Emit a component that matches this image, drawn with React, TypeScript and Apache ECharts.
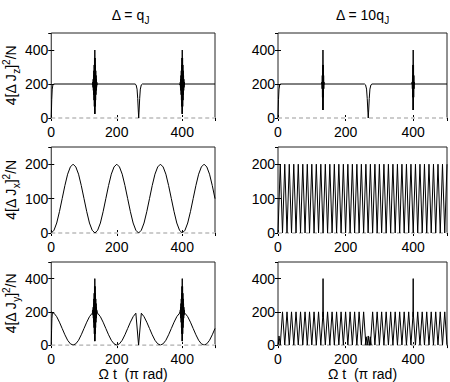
import React, { useEffect, useRef } from "react";
import * as echarts from "echarts";

// ---------- texts ----------
const titles = ["{n|Δ = q}{s|J}", "{n|Δ = 10q}{s|J}"];
const yNames = [
  "{n|4[Δ J}{s|z}{n|]}{p|2}{n|/N}",
  "{n|4[Δ J}{s|x}{n|]}{p|2}{n|/N}",
  "{n|4[Δ J}{s|y}{n|]}{p|2}{n|/N}",
];
const xName = "Ω t  (π rad)";
const xMax = 500;
const xStep = 200;
const yMax = [500, 250, 500];
const yStep = [200, 100, 200];

// ---------- row 1: Jz ----------
const jzSlowBase = [
  [0, 0], [1.5, 110], [3, 170], [5, 195], [8, 200], [256, 200], [259, 195], [262, 170],
  [264, 115], [266, 35], [267, 0], [268, 35], [270, 115], [272, 170], [275, 195], [278, 200], [500, 200],
];
const slowSpindleA = [
  [125, 200], [125.5, 199], [126, 203], [126.5, 193], [127, 212], [127.5, 180], [128, 228], [128.5, 162],
  [129, 250], [129.5, 137], [130, 278], [130.5, 105], [131, 312], [131.5, 68], [132, 353], [132.5, 24],
  [133, 400], [133.5, 24], [134, 353], [134.5, 68], [135, 312], [135.5, 105], [136, 278], [136.5, 137],
  [137, 250], [137.5, 162], [138, 228], [138.5, 180], [139, 212], [139.5, 193], [140, 203], [140.5, 199], [141, 200],
];
const slowSpindleB = [
  [392, 200], [392.5, 199], [393, 203], [393.5, 193], [394, 212], [394.5, 180], [395, 228], [395.5, 162],
  [396, 250], [396.5, 137], [397, 278], [397.5, 105], [398, 312], [398.5, 68], [399, 353], [399.5, 24],
  [400, 400], [400.5, 24], [401, 353], [401.5, 68], [402, 312], [402.5, 105], [403, 278], [403.5, 137],
  [404, 250], [404.5, 162], [405, 228], [405.5, 180], [406, 212], [406.5, 193], [407, 203], [407.5, 199], [408, 200],
];
const jzFastBase = [
  [0, 0], [1.5, 110], [3, 170], [5, 195], [8, 200], [256, 200], [259, 195], [262, 170],
  [264, 115], [266, 35], [267, 0], [268, 35], [270, 115], [272, 170], [275, 195], [278, 200], [500, 200],
];
const fastSpindleA = [
  [129, 200], [129.5, 197], [130, 212], [130.5, 172], [131, 250], [131.5, 122], [132, 312], [132.5, 47],
  [133, 400], [133.5, 47], [134, 312], [134.5, 122], [135, 250], [135.5, 172], [136, 212], [136.5, 197], [137, 200],
];
const fastSpindleB = [
  [396, 200], [396.5, 197], [397, 212], [397.5, 172], [398, 250], [398.5, 122], [399, 312], [399.5, 47],
  [400, 400], [400.5, 47], [401, 312], [401.5, 122], [402, 250], [402.5, 172], [403, 212], [403.5, 197], [404, 200],
];

// ---------- row 2: Jx ----------
const jxSlowStep = 500 / 60;
const jxSlowY = [
  0, 8, 29, 62, 100, 138, 171, 192, 200, 192, 171, 138, 100, 62, 29, 8,
  0, 8, 29, 62, 100, 138, 171, 192, 200, 192, 171, 138, 100, 62, 29, 8,
  0, 8, 29, 62, 100, 138, 171, 192, 200, 192, 171, 138, 100, 62, 29, 8,
  0, 8, 29, 62, 100, 138, 171, 192, 200, 192, 171, 138, 100,
];
const jxFastStep = 500 / 75;
const jxFastY = [
  0, 200, 0, 200, 0, 200, 0, 200, 0, 200,
  0, 200, 0, 200, 0, 200, 0, 200, 0, 200,
  0, 200, 0, 200, 0, 200, 0, 200, 0, 200,
  0, 200, 0, 200, 0, 200, 0, 200, 0, 200,
  0, 200, 0, 200, 0, 200, 0, 200, 0, 200,
  0, 200, 0, 200, 0, 200, 0, 200, 0, 200,
  0, 200, 0, 200, 0, 200, 0, 200, 0, 200,
  0, 200, 0, 200, 0, 200,
];

// ---------- row 3: Jy ----------
const jySlowStep = 500 / 60;
const jySlowY = [
  200, 192, 171, 138, 100, 62, 29, 8, 0, 8, 29, 62, 100, 138, 171, 192,
  200, 192, 171, 138, 100, 62, 29, 8, 0, 8, 29, 62, 100, 138, 171, 192,
  0, 192, 171, 138, 100, 62, 29, 8, 0, 8, 29, 62, 100, 138, 171, 192,
  200, 192, 171, 138, 100, 62, 29, 8, 0, 8, 29, 62, 100,
];
const jySlowStart = [[0, 0], [1, 90], [2, 160], [3.5, 195], [5, 199]];
const jyFastStep = 500 / 75;
const jyFastY = [
  0, 0, 200, 0, 200, 0, 200, 0, 200, 0,
  200, 0, 200, 0, 200, 0, 200, 0, 200, 0,
  200, 0, 200, 0, 200, 0, 200, 0, 200, 0,
  200, 0, 200, 0, 200, 0, 200, 0, 200, 0,
  0, 0, 200, 0, 200, 0, 200, 0, 200, 0,
  200, 0, 200, 0, 200, 0, 200, 0, 200, 0,
  200, 0, 200, 0, 200, 0, 200, 0, 200, 0,
  200, 0, 200, 0, 200, 0,
];
const jyFastStart = [[0, 0], [3, 55], [6.67, 0]];
const jyFastNotch = [[258, 0], [261, 50], [264, 0], [267, 55], [270, 0], [273, 50], [276, 0]];
const jyFastSpikeA = [[132.6, 170], [133.3, 400], [134, 170]];
const jyFastSpikeB = [[399.3, 170], [400, 400], [400.7, 170]];

const zeroLine = [[0, 0], [500, 0]];

// ---------- layout ----------
const colLeft = [46, 278];
const plotW = 169;
const rowTop = [33, 147, 262];
const rowH = [85, 86, 85];

const FONT = "Liberation Sans, Arial, Helvetica, sans-serif";

const richStyles = {
  n: { fontSize: 14, fontFamily: FONT, color: "#000", lineHeight: 20, verticalAlign: "middle" },
  s: { fontSize: 10, fontFamily: FONT, color: "#000", lineHeight: 10, verticalAlign: "bottom" },
  p: { fontSize: 10, fontFamily: FONT, color: "#000", lineHeight: 10, verticalAlign: "top" },
};

const onGrid = (step: number, ys: number[]) => ys.map((y, i) => [i * step, y]);

export default function App() {
  const ref = useRef<HTMLDivElement>(null);
  useEffect(() => {
    if (!ref.current) return;
    const chart = echarts.init(ref.current, undefined, { renderer: "svg" });

    const grids: any[] = [];
    const xAxes: any[] = [];
    const yAxes: any[] = [];
    for (let r = 0; r < 3; r++) {
      for (let c = 0; c < 2; c++) {
        const g = r * 2 + c;
        grids.push({
          left: colLeft[c],
          top: rowTop[r],
          width: plotW,
          height: rowH[r],
          show: true,
          borderColor: "#222",
          borderWidth: 1,
          backgroundColor: "#fff",
        });
        const tick = { show: true, inside: true, length: 3, lineStyle: { color: "#000", width: 1 } };
        xAxes.push({
          type: "value",
          gridIndex: g,
          min: 0,
          max: xMax,
          interval: xStep,
          position: "bottom",
          axisLine: { show: false },
          axisTick: tick,
          splitLine: { show: false },
          axisLabel: { fontSize: 14, fontFamily: FONT, color: "#000", margin: 7, showMaxLabel: false },
          ...(r === 2
            ? {
                name: xName,
                nameLocation: "middle",
                nameGap: 19,
                nameTextStyle: { fontSize: 14, fontFamily: FONT, color: "#000" },
              }
            : {}),
        });
        xAxes.push({
          type: "value",
          gridIndex: g,
          min: 0,
          max: xMax,
          interval: xStep,
          position: "top",
          axisLine: { show: false },
          axisTick: tick,
          splitLine: { show: false },
          axisLabel: { show: false },
        });
        yAxes.push({
          type: "value",
          gridIndex: g,
          min: 0,
          max: yMax[r],
          interval: yStep[r],
          position: "left",
          axisLine: { show: false },
          axisTick: tick,
          splitLine: { show: false },
          axisLabel: { fontSize: 14, fontFamily: FONT, color: "#000", margin: 3, showMaxLabel: false },
          ...(c === 0
            ? {
                name: yNames[r],
                nameLocation: "middle",
                nameRotate: 90,
                nameGap: 21,
                nameTextStyle: { rich: richStyles },
              }
            : {}),
        });
        yAxes.push({
          type: "value",
          gridIndex: g,
          min: 0,
          max: yMax[r],
          interval: yStep[r],
          position: "right",
          axisLine: { show: false },
          axisTick: tick,
          splitLine: { show: false },
          axisLabel: { show: false },
        });
      }
    }

    const series: any[] = [];
    const add = (g: number, data: number[][], style: any = {}, extra: any = {}) => {
      series.push({
        type: "line",
        xAxisIndex: 2 * g,
        yAxisIndex: 2 * g,
        data,
        symbol: "none",
        silent: true,
        lineStyle: { color: "#000", width: 1, ...style },
        ...extra,
      });
    };
    for (let g = 0; g < 6; g++) {
      add(g, zeroLine, { color: "#fff", width: 2 }, { clip: false });
      add(g, zeroLine, { color: "#999", width: 1, type: [4, 3] }, { clip: false });
    }
    // row 1
    add(0, jzSlowBase);
    add(0, slowSpindleA);
    add(0, slowSpindleB);
    add(1, jzFastBase);
    add(1, fastSpindleA);
    add(1, fastSpindleB);
    // row 2
    add(2, onGrid(jxSlowStep, jxSlowY));
    add(3, onGrid(jxFastStep, jxFastY));
    // row 3
    add(4, onGrid(jySlowStep, jySlowY));
    add(4, jySlowStart);
    add(4, slowSpindleA);
    add(4, slowSpindleB);
    add(5, onGrid(jyFastStep, jyFastY));
    add(5, jyFastStart);
    add(5, jyFastNotch);
    add(5, jyFastSpikeA);
    add(5, jyFastSpikeB);

    const graphic = titles.map((t, c) => ({
      type: "text",
      x: colLeft[c] + plotW / 2,
      y: 5,
      style: { text: t, rich: richStyles, align: "center", verticalAlign: "top" },
    }));

    chart.setOption({
      animation: false,
      backgroundColor: "#fff",
      grid: grids,
      xAxis: xAxes,
      yAxis: yAxes,
      series,
      graphic,
    });
    return () => chart.dispose();
  }, []);
  return (
    <div
      ref={ref}
      style={{ position: "fixed", left: 0, top: 0, width: 450, height: 382, background: "#fff" }}
    />
  );
}
